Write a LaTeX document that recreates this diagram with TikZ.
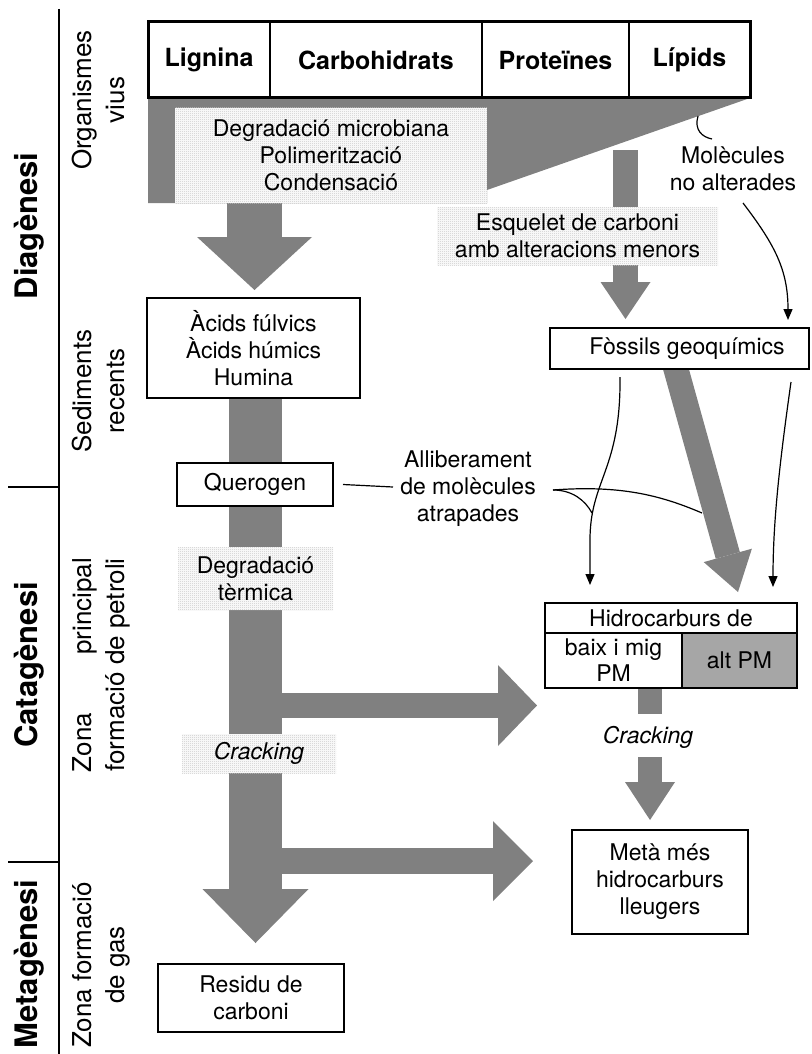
\documentclass[tikz,border=0pt]{standalone}
\usepackage{fontspec}
\setmainfont{texgyreheros}[Extension=.otf, UprightFont=*-regular, BoldFont=*-bold,
  ItalicFont=*-italic, BoldItalicFont=*-bolditalic]
\usetikzlibrary{arrows.meta,patterns,calc}
\pgfdeclarelayer{background}
\pgfsetlayers{background,main}
\definecolor{flowgray}{RGB}{128,128,128}
\definecolor{cellgray}{RGB}{166,166,166}
% fine checkerboard used for the process boxes
\pgfdeclarepatternformonly{checker}{\pgfqpoint{0pt}{0pt}}{\pgfqpoint{2pt}{2pt}}{\pgfqpoint{2pt}{2pt}}{%
  \pgfpathrectangle{\pgfqpoint{0pt}{0pt}}{\pgfqpoint{1pt}{1pt}}%
  \pgfpathrectangle{\pgfqpoint{1pt}{1pt}}{\pgfqpoint{1pt}{1pt}}%
  \pgfusepath{fill}}

\tikzset{
  txt/.style={font=\fontsize{23}{27}\selectfont, align=center, inner sep=0pt, outer sep=0pt},
  box/.style={txt, draw, line width=2.5pt, fill=white},
  hatchbox/.style={txt, preaction={fill=white}, pattern=checker, pattern color=gray!45},
  cell/.style={draw, line width=1.8pt, fill=white, inner sep=0pt, outer sep=0pt,
    minimum height=76pt, font=\fontsize{25}{30}\selectfont\bfseries},
  phase/.style={rotate=90, anchor=base, inner sep=0pt, font=\fontsize{31}{36}\selectfont\bfseries},
  zone/.style={rotate=90, anchor=base, inner sep=0pt, font=\fontsize{26}{30}\selectfont},
  rule/.style={line width=1.5pt},
  flow/.style={fill=flowgray, draw=none},
  flowarrow/.style n args={3}{draw=flowgray, line width=#1,
    -{Triangle[length=#2, width=#3, line width=0pt, fill=flowgray]}},
  thinarrow/.style={line width=1.2pt, -{Triangle[width=9pt, length=11pt]}},
  link/.style={line width=1.2pt},
}

\begin{document}
\begin{tikzpicture}[x=1pt, y=-1pt]
\useasboundingbox (0,0) rectangle (811,1054);

% stage column
\draw[rule] (59,9) -- (59,1054);
\draw[rule] (8,487) -- (59,487);
\draw[rule] (8,862) -- (59,862);

\node[phase] (dia) at (37,226) {Diagènesi};
\node[phase] (cat) at (37,665) {Catagènesi};
\node[phase] (met) at (37,964) {Metagènesi};

\node[zone] (org1) at (91,100) {Organismes};
\node[zone] (org2) at (124,100) {vius};
\node[zone] (sed1) at (91,391) {Sediments};
\node[zone] (sed2) at (124,391) {recents};
\node[zone] (pet1) at (91,665) {\makebox[214pt][s]{Zona principal}};
\node[zone] (pet2) at (124,665) {formació de petroli};
\node[zone] (gas1) at (91,965) {Zona formació};
\node[zone] (gas2) at (124,965) {de gas};

% starting material
\node[cell, minimum width=122pt] (lig) at (209,60) {Lignina};
\node[cell, minimum width=212pt] (car) at (376,60) {Carbohidrats};
\node[cell, minimum width=147pt] (pro) at (555.5,60) {Proteïnes};
\node[cell, minimum width=121pt] (lip) at (689.5,60) {Lípids};
\draw[line width=3pt] (lig.north west) rectangle (lip.south east);

% processes and products
\node[hatchbox, minimum width=312pt, minimum height=95pt] (micro) at (331,155.5)
  {Degradació microbiana\\Polimerització\\Condensació};
\node[hatchbox, minimum width=281pt, minimum height=58pt] (esq) at (577.5,236)
  {Esquelet de carboni\\amb alteracions menors};
\node[txt] (molec) at (733,169) {Molècules\\no alterades};
\node[box, minimum width=213pt, minimum height=100pt] (acids) at (253.5,348)
  {Àcids fúlvics\\Àcids húmics\\Humina};
\node[box, minimum width=259pt, minimum height=41pt] (foss) at (679.5,348.5)
  {\hspace*{15pt}Fòssils geoquímics};
\node[box, minimum width=156pt, minimum height=43pt] (quer) at (255,484.5) {Querogen};
\node[txt] (allib) at (468,489) {Alliberament\\de molècules\\atrapades};
\node[hatchbox, minimum width=155pt, minimum height=63pt] (term) at (255.5,578.5)
  {Degradació\\tèrmica};
\node[hatchbox, minimum width=154pt, minimum height=39pt, font=\fontsize{23}{27}\selectfont\itshape]
  (crack) at (259,753.5) {Cracking};

\node[box, minimum width=252pt, minimum height=30pt] (hc) at (671,618) {Hidrocarburs de};
\node[box, minimum width=137pt, minimum height=55pt, font=\fontsize{23}{26}\selectfont]
  (hcl) at (613.5,660.5) {baix i mig\\PM};
\node[box, fill=cellgray, minimum width=115pt, minimum height=55pt] (hcr) at (739.5,660.5) {alt PM};
\node[txt, font=\fontsize{23}{27}\selectfont\itshape] (crack2) at (648,737) {Cracking};
\node[box, minimum width=176pt, minimum height=104pt] (meta) at (660,882)
  {Metà més\\hidrocarburs\\lleugers};
\node[box, minimum width=186pt, minimum height=68pt] (res) at (251,998)
  {Residu de\\carboni};

% arrow end points
\coordinate (tA) at (254.5,290);
\coordinate (tP) at (625.5,319);
\coordinate (tT) at (255.5,943);
\coordinate (tB1) at (537,705.5);
\coordinate (tB2) at (533,861);
\coordinate (tD) at (738,592);
\coordinate (tC) at (650,820);
\coordinate (mA) at (743,203);
\coordinate (mB) at (788,320);
\coordinate (fL) at (590,585);
\coordinate (fR) at (773,587);
\coordinate (rel) at (553,490);

% thick grey flows
\begin{pgfonlayer}{background}
  \fill[flow] (lig.south west) -- (lip.south east) -- (487,190) -- (487,203)
    -- (148,203) -- cycle;
  \draw[flowarrow={55pt}{53pt}{115pt}] (254.5,200) -- (tA);
  \draw[flowarrow={25pt}{37pt}{50pt}] (625.5,150) -- (tP);
  \draw[flowarrow={53pt}{54pt}{106pt}] (tT |- acids.south) -- (tT);
  \draw[flowarrow={25pt}{39pt}{81pt}] (255.5,705.5) -- (tB1);
  \draw[flowarrow={26pt}{40pt}{80pt}] (255.5,861) -- (tB2);
  \draw[flowarrow={25pt}{38pt}{50pt}] (672,355) -- (tD);
  \draw[draw=flowgray, line width=24pt] (650,680) -- (650,714);
  \draw[flowarrow={24pt}{38pt}{50pt}] (650,757) -- (tC);
\end{pgfonlayer}

% thin links
\draw[link] (698,116) .. controls (694,130) and (702,137) .. (712,139);
\draw[thinarrow] (mA) .. controls (775,245) and (788,270) .. (mB);
\draw[thinarrow] (620,377) .. controls (621,470) and (590,480) .. (590,540) -- (fL);
\draw[thinarrow] (791,382) .. controls (780,460) and (773,520) .. (fR);
\draw[link] ([xshift=10pt]quer.east) -- (393,487);
\draw[link] (rel) .. controls (572,490) and (585,500) .. (592,513);
\draw[link] (rel) .. controls (620,485) and (660,495) .. (702,513);
\end{tikzpicture}
\end{document}
